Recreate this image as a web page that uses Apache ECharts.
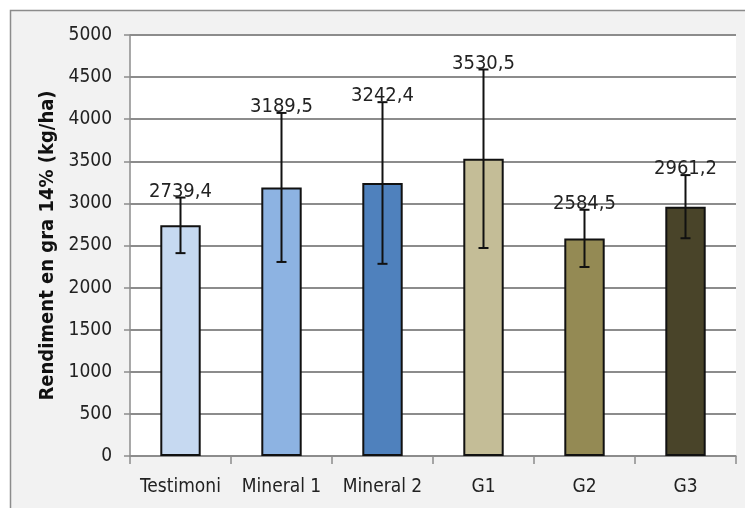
<!DOCTYPE html>
<html>
<head>
<meta charset="utf-8">
<script src="https://cdn.jsdelivr.net/npm/echarts@6/dist/echarts.min.js"></script>
<style>html,body{margin:0;padding:0;background:#fff}#c{width:745px;height:508px}</style>
</head>
<body>
<div id="c"></div>
<script>
const categories = ['Testimoni', 'Mineral 1', 'Mineral 2', 'G1', 'G2', 'G3'];
const values = [2739.4, 3189.5, 3242.4, 3530.5, 2584.5, 2961.2];
const errors = [330, 885, 960, 1060, 340, 375];
const barColors = ['#c6d9f1', '#8db3e2', '#4f81bd', '#c4bd97', '#948a54', '#494429'];
const yMin = 0, yMax = 5000, yStep = 500;
const yTitle = 'Rendiment en gra 14% (kg/ha)';

const FONT = "'Liberation Sans Narrow', 'DejaVu Sans Condensed', 'Liberation Sans', sans-serif";
const chart = echarts.init(document.getElementById('c'));
const fmt = v => v.toFixed(1).replace('.', ',');

chart.setOption({
  backgroundColor: '#ffffff',
  animation: false,
  graphic: [{
    type: 'rect', z: -10, silent: true,
    shape: { x: 10.5, y: 10.5, width: 740, height: 510 },
    style: { fill: '#f2f2f2', stroke: '#8c8c8c', lineWidth: 1.5 }
  }],
  grid: { left: 130, right: 9, top: 35, bottom: 52, show: true, backgroundColor: '#ffffff', borderWidth: 0 },
  xAxis: {
    type: 'category', data: categories,
    axisLine: { lineStyle: { color: '#8c8c8c', width: 1.5 } },
    axisTick: { show: true, length: 8, lineStyle: { color: '#8c8c8c', width: 1.5 } },
    axisLabel: { color: '#222', fontSize: 19, fontFamily: FONT, margin: 22, interval: 0 }
  },
  yAxis: {
    type: 'value', min: yMin, max: yMax, interval: yStep,
    name: yTitle, nameLocation: 'middle', nameGap: 67,
    nameTextStyle: { color: '#111', fontSize: 20, fontWeight: 'bold', fontFamily: FONT },
    axisLine: { show: true, lineStyle: { color: '#8c8c8c', width: 1.5 } },
    axisTick: { show: true, length: 6, lineStyle: { color: '#8c8c8c', width: 1.5 } },
    axisLabel: { color: '#222', fontSize: 19, fontFamily: FONT, margin: 18, formatter: v => String(v) },
    splitLine: { lineStyle: { color: '#8c8c8c', width: 2 } }
  },
  series: [{
    type: 'bar', barWidth: '40%',
    data: values.map((v, i) => ({ value: v, itemStyle: { color: barColors[i] } })),
    itemStyle: { borderColor: '#111', borderWidth: 2 },
    z: 2
  }, {
    type: 'custom', z: 5,
    data: values.map((v, i) => [i, v - errors[i], v + errors[i], v]),
    renderItem: function (params, api) {
      const i = api.value(0);
      const lo = api.coord([i, api.value(1)]);
      const hi = api.coord([i, api.value(2)]);
      const x = lo[0], cap = 5;
      const st = { stroke: '#111', lineWidth: 2 };
      return {
        type: 'group',
        children: [
          { type: 'line', shape: { x1: x, y1: lo[1], x2: x, y2: hi[1] }, style: st },
          { type: 'line', shape: { x1: x - cap, y1: lo[1], x2: x + cap, y2: lo[1] }, style: st },
          { type: 'line', shape: { x1: x - cap, y1: hi[1], x2: x + cap, y2: hi[1] }, style: st },
          { type: 'text', style: { x: x, y: hi[1] - 6, text: fmt(api.value(3)), textAlign: 'center', textVerticalAlign: 'middle', fill: '#222', fontSize: 20, fontFamily: FONT } }
        ]
      };
    }
  }]
});
</script>
</body>
</html>
